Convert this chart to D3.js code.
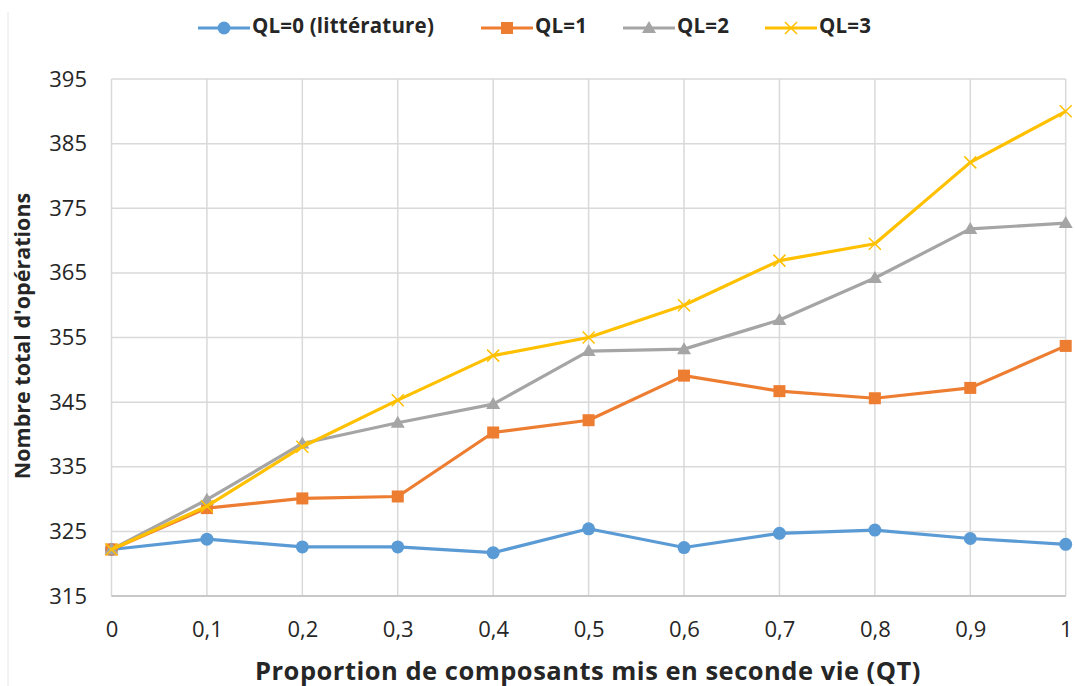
<!DOCTYPE html>
<html><head><meta charset="utf-8">
<script src="https://cdn.jsdelivr.net/npm/d3@7"></script>
<style>body{margin:0;background:#fff}svg{display:block}text{font-family:"Open Sans",sans-serif;fill:#262626}</style>
</head><body><svg id="c" width="1075" height="686"></svg>
<script>
const xValues = [0,0.1,0.2,0.3,0.4,0.5,0.6,0.7,0.8,0.9,1];
const xTickLabels = ["0","0,1","0,2","0,3","0,4","0,5","0,6","0,7","0,8","0,9","1"];
const yTicks = [315,325,335,345,355,365,375,385,395];
const seriesNames = ["QL=0 (littérature)","QL=1","QL=2","QL=3"];
const ql0 = [322.2,323.8,322.6,322.6,321.7,325.4,322.5,324.7,325.2,323.9,323.0];
const ql1 = [322.2,328.6,330.1,330.4,340.3,342.2,349.1,346.7,345.6,347.2,353.7];
const ql2 = [322.2,329.9,338.6,341.8,344.7,352.9,353.2,357.7,364.2,371.8,372.7];
const ql3 = [322.2,328.9,338.1,345.3,352.2,355.0,360.0,366.9,369.5,382.1,390.0];
const colors = ["#5B9BD5","#ED7D31","#A5A5A5","#FFC000"];
const markers = ["circle","square","triangle","cross"];
const series = [ql0,ql1,ql2,ql3];

const svg = d3.select("#c");
const L=111.5,R=1065.7,T=79,B=596;
const x = d3.scaleLinear().domain([0,1]).range([L,R]);
const y = d3.scaleLinear().domain([315,395]).range([B,T]);

// outer faint border
svg.append("line").attr("x1",8).attr("x2",8).attr("y1",12).attr("y2",686).attr("stroke","#E6E6E6");

// grid
const g = svg.append("g");
g.selectAll("line.h").data(yTicks).join("line")
 .attr("x1",L).attr("x2",R).attr("y1",d=>y(d)).attr("y2",d=>y(d))
 .attr("stroke","#D9D9D9").attr("stroke-width",1.5);
g.selectAll("line.v").data(xValues).join("line")
 .attr("y1",T).attr("y2",B).attr("x1",d=>x(d)).attr("x2",d=>x(d))
 .attr("stroke","#D9D9D9").attr("stroke-width",1.5);
svg.append("line").attr("x1",L).attr("x2",R).attr("y1",B).attr("y2",B).attr("stroke","#BFBFBF").attr("stroke-width",1.5);

// axes via d3
const yAxis = d3.axisLeft(y).tickValues(yTicks).tickSize(0).tickPadding(24.5);
const ya = svg.append("g").attr("transform",`translate(${L},0)`).call(yAxis);
ya.select(".domain").remove();
ya.selectAll("text").style("font-size","22px").attr("fill","#262626").style("font-family","'Open Sans',sans-serif");

const xAxis = d3.axisBottom(x).tickValues(xValues).tickFormat((d,i)=>xTickLabels[i]).tickSize(0).tickPadding(25);
const xa = svg.append("g").attr("transform",`translate(0,${B})`).call(xAxis);
xa.select(".domain").remove();
xa.selectAll("text").style("font-size","22px").attr("fill","#262626").style("font-family","'Open Sans',sans-serif");

// axis titles
svg.append("text").attr("x",588).attr("y",679.5).attr("text-anchor","middle")
 .style("font-size","25.5px").style("font-weight","bold").style("letter-spacing","0.5px")
 .text("Proportion de composants mis en seconde vie (QT)");
svg.append("text").attr("transform","translate(30,336) rotate(-90)").attr("text-anchor","middle")
 .style("font-size","21.5px").style("font-weight","bold").text("Nombre total d'opérations");

function drawMarker(sel,type,color,cx,cy){
  if(type==="circle") sel.append("circle").attr("cx",cx).attr("cy",cy).attr("r",6.5).attr("fill",color);
  else if(type==="square") sel.append("rect").attr("x",cx-6).attr("y",cy-6).attr("width",12).attr("height",12).attr("fill",color);
  else if(type==="triangle") sel.append("path").attr("d",`M${cx},${cy-7}L${cx+7},${cy+5}L${cx-7},${cy+5}Z`).attr("fill",color);
  else sel.append("path").attr("d",`M${cx-6},${cy-6}L${cx+6},${cy+6}M${cx-6},${cy+6}L${cx+6},${cy-6}`).attr("stroke",color).attr("stroke-width",1.5);
}

const line = d3.line().x((d,i)=>x(xValues[i])).y(d=>y(d));
series.forEach((s,k)=>{
  const gg = svg.append("g");
  gg.append("path").datum(s).attr("d",line).attr("fill","none").attr("stroke",colors[k]).attr("stroke-width",3.2).attr("stroke-linejoin","round");
  s.forEach((v,i)=>drawMarker(gg,markers[k],colors[k],x(xValues[i]),y(v)));
});

// legend
const legX = [198,481,623,765];
const lg = svg.append("g");
seriesNames.forEach((n,k)=>{
  const x0=legX[k], yy=28;
  lg.append("line").attr("x1",x0).attr("x2",x0+52).attr("y1",yy).attr("y2",yy).attr("stroke",colors[k]).attr("stroke-width",3.2);
  drawMarker(lg,markers[k],colors[k],x0+26,yy);
  lg.append("text").attr("x",x0+54).attr("y",32.5).style("font-size","20.5px").style("font-weight","bold").style("letter-spacing","0.2px").text(n);
});
</script></body></html>
